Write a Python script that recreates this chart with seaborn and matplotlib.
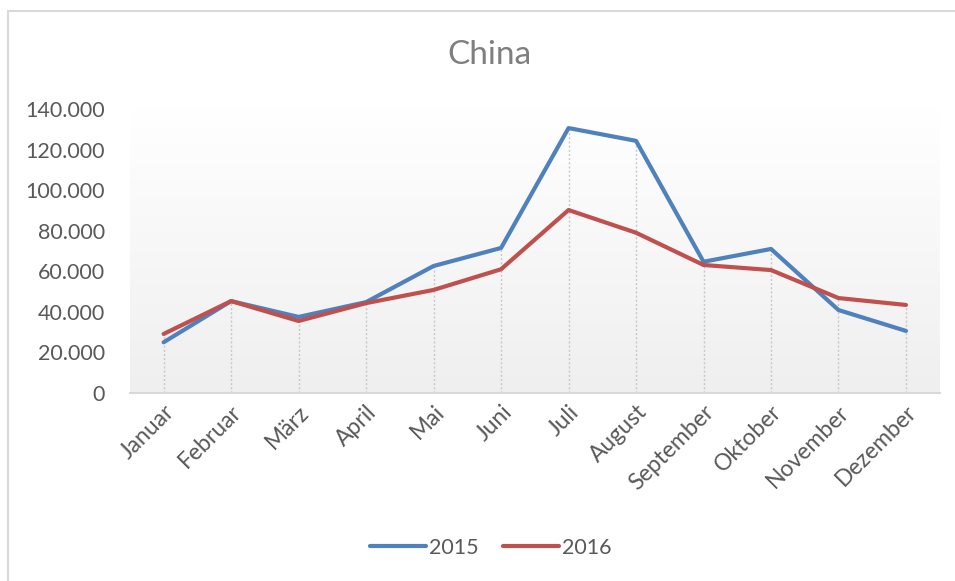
import numpy as np
import pandas as pd
import seaborn as sns
import matplotlib.pyplot as plt
from matplotlib.ticker import FuncFormatter, MultipleLocator
from matplotlib.lines import Line2D

sns.set_style('white')
plt.rcParams['font.family'] = ['Lato', 'DejaVu Sans']

# monthly values
monate = ['Januar', 'Februar', 'März', 'April', 'Mai', 'Juni', 'Juli',
          'August', 'September', 'Oktober', 'November', 'Dezember']
werte_2015 = [25000, 45300, 37500, 44800, 62600, 71500, 130600, 124300, 64700, 71000, 40900, 30600]
werte_2016 = [29100, 45300, 35500, 44300, 50800, 61000, 90200, 79000, 63100, 60600, 46800, 43400]

df = pd.DataFrame({
    'Monat': monate * 2,
    'x': list(range(12)) * 2,
    'Wert': werte_2015 + werte_2016,
    'Jahr': ['2015'] * 12 + ['2016'] * 12,
})

fig = plt.figure(figsize=(9.55, 5.81), dpi=100)
ax = fig.add_axes([0.136, 0.3236, 0.848, 0.4888])

# gradient fill of plot area (white top -> light grey bottom)
grad = np.linspace(1, 0, 256).reshape(-1, 1)
ax.imshow(grad, extent=[-0.5, 11.5, 0, 140000], aspect='auto',
          cmap=plt.matplotlib.colors.LinearSegmentedColormap.from_list('g', ['#efefef', '#ffffff']),
          origin='upper', zorder=0)

# drop lines
top = np.maximum(werte_2015, werte_2016)
ax.vlines(range(12), 0, top, colors='#c8c8c8', linestyles=(0, (1.5, 1.5)), linewidth=1, zorder=1)

sns.lineplot(data=df, x='x', y='Wert', hue='Jahr', palette=['#4F81BD', '#C0504D'],
             linewidth=3, ax=ax, zorder=3, legend=False)

ax.set_xlim(-0.5, 11.5)
ax.set_ylim(0, 140000)
ax.yaxis.set_major_locator(MultipleLocator(20000))
ax.yaxis.set_major_formatter(FuncFormatter(lambda v, p: f'{v:,.0f}'.replace(',', '.')))
ax.set_xticks(range(12))
ax.set_xticklabels(monate, rotation=45, ha='right', rotation_mode='anchor')
ax.tick_params(axis='both', length=0, labelsize=15.5, labelcolor='#595959')
ax.tick_params(axis='x', labelsize=16.5, pad=6)
ax.tick_params(axis='y', pad=18)
ax.set_xlabel('')
ax.set_ylabel('')
for s in ['top', 'right', 'left']:
    ax.spines[s].set_visible(False)
ax.spines['bottom'].set_color('#d9d9d9')
ax.spines['bottom'].set_linewidth(1.5)

fig.text(0.513, 0.905, 'China', ha='center', va='center', fontsize=24, color='#7f7f7f')

handles = [Line2D([0], [0], color='#4F81BD', lw=3), Line2D([0], [0], color='#C0504D', lw=3)]
fig.legend(handles, ['2015', '2016'], loc='center', bbox_to_anchor=(0.514, 0.057), ncol=2,
           frameon=False, fontsize=15.5, labelcolor='#595959', handlelength=2.6,
           handletextpad=0.15, columnspacing=1.1)

# chart border (left and top visible)
fig.add_artist(Line2D([0.0084, 0.0084], [0, 0.981], transform=fig.transFigure, color='#d9d9d9', lw=1.5))
fig.add_artist(Line2D([0.0084, 1], [0.981, 0.981], transform=fig.transFigure, color='#d9d9d9', lw=1.5))

fig.savefig('out.png', dpi=100)
